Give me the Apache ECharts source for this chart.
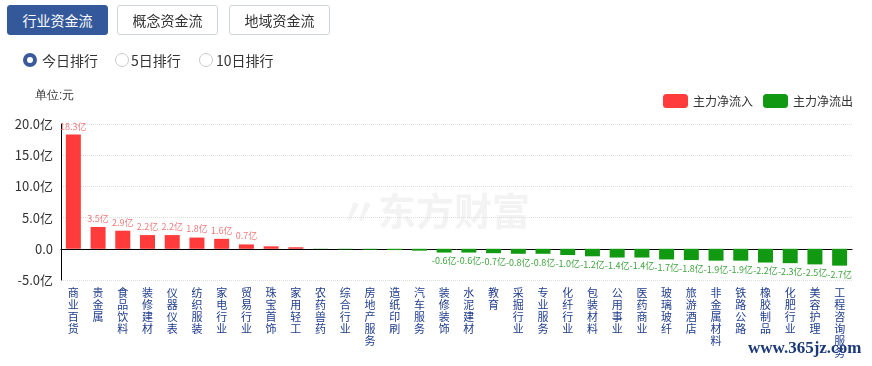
<!DOCTYPE html>
<html>
<head>
<meta charset="utf-8">
<script src="https://cdn.jsdelivr.net/npm/echarts@6/dist/echarts.min.js"></script>
<style>
html,body{margin:0;padding:0;background:#fff;font-family:"Noto Sans CJK SC","Microsoft YaHei",sans-serif;}
#wrap{position:relative;width:872px;height:366px;overflow:hidden;}
#chart{position:absolute;left:0;top:0;width:872px;height:366px;}
.tab{position:absolute;top:5px;height:28px;line-height:28px;width:99px;text-align:center;font-size:14px;border:1px solid #cfd4dc;border-radius:3px;color:#333;background:#fff;box-sizing:content-box;}
.tab.on{background:#34599a;color:#fff;border-color:#34599a;}
.radio{position:absolute;top:51px;font-size:14px;color:#333;line-height:18px;}
.dot{position:absolute;top:3px;width:8px;height:8px;border-radius:50%;}
</style>
</head>
<body>
<div id="wrap">
<div id="chart"></div>
<div class="tab on" style="left:7px;">行业资金流</div>
<div class="tab" style="left:117px;">概念资金流</div>
<div class="tab" style="left:229px;">地域资金流</div>
<div class="dot" style="left:23px;top:53px;border:4px solid #3a5a9a;width:6px;height:6px;background:#fff;"></div>
<div class="radio" style="left:42px;">今日排行</div>
<div class="dot" style="left:115px;top:53px;border:1px solid #c8c8c8;width:12px;height:12px;"></div>
<div class="radio" style="left:131px;">5日排行</div>
<div class="dot" style="left:199px;top:53px;border:1px solid #c8c8c8;width:12px;height:12px;"></div>
<div class="radio" style="left:216px;">10日排行</div>
</div>
<script>
var categories = ["商业百货","贵金属","食品饮料","装修建材","仪器仪表","纺织服装","家电行业","贸易行业","珠宝首饰","家用轻工","农药兽药","综合行业","房地产服务","造纸印刷","汽车服务","装修装饰","水泥建材","教育","采掘行业","专业服务","化纤行业","包装材料","公用事业","医药商业","玻璃玻纤","旅游酒店","非金属材料","铁路公路","橡胶制品","化肥行业","美容护理","工程咨询服务"];
var values = [18.3,3.5,2.9,2.2,2.2,1.8,1.6,0.7,0.4,0.25,-0.05,-0.1,-0.15,-0.2,-0.3,-0.6,-0.6,-0.7,-0.8,-0.8,-1.0,-1.2,-1.4,-1.4,-1.7,-1.8,-1.9,-1.9,-2.2,-2.3,-2.5,-2.7];
var yTicks = [-5,0,5,10,15,20];
var seriesNames = ["主力净流入","主力净流出"];

var inflow = values.map(function(v){return v>=0?v:null;});
var outflow = values.map(function(v){return v<0?v:null;});

var chart = echarts.init(document.getElementById('chart'));
chart.setOption({
  animation:false,
  textStyle:{fontFamily:'"Noto Sans CJK SC",sans-serif'},
  legend:{
    data:seriesNames, right:14, top:89, itemWidth:25, itemHeight:14, itemGap:10,
    textStyle:{fontSize:12,color:'#333'}
  },
  graphic:[
    {type:'text',left:35,top:90,style:{text:'单位:元',fontSize:12,fill:'#333',font:'12px "Noto Sans CJK SC"'}},
    {type:'text',left:340,top:192,z:-10,style:{text:'〃东方财富',fill:'#f3f3f3',font:'bold 38px "Noto Sans CJK SC"'}},
    {type:'text',left:748,top:340,z:100,style:{text:'www.365jz.com',fill:'#1c3a78',font:'bold 17px "Liberation Serif"'}}
  ],
  grid:{left:61,right:20,top:124,bottom:86,containLabel:false,outerBoundsMode:'none'},
  xAxis:{
    type:'category', data:categories,
    axisLine:{show:true,onZero:true,lineStyle:{color:'#000'}},
    axisTick:{show:false},
    axisLabel:{
      interval:0, color:'#1f3c8c', fontSize:11, lineHeight:12, margin:7,
      verticalAlign:'top',
      formatter:function(v){return v.split('').join('\n');}
    }
  },
  yAxis:{
    type:'value', min:yTicks[0], max:yTicks[yTicks.length-1], interval:5,
    axisLine:{show:true,lineStyle:{color:'#000'}},
    axisTick:{show:false},
    axisLabel:{color:'#333',fontSize:13,margin:8,
      formatter:function(v){return v===0?'0.0':v.toFixed(1)+'亿';}},
    splitLine:{show:true,lineStyle:{color:'#ddd',type:'dotted'}}
  },
  series:[
    {name:seriesNames[0],type:'bar',data:inflow,barWidth:15,barGap:'-100%',
      itemStyle:{color:'#ff3b3b'},
      label:{show:true,position:'top',fontSize:9,color:'#f07a7a',distance:4,
        formatter:function(p){return p.value>=0.5?p.value.toFixed(1)+'亿':'';}}},
    {name:seriesNames[1],type:'bar',data:outflow,barWidth:15,barGap:'-100%',
      itemStyle:{color:'#119a11'},
      label:{show:true,position:'bottom',fontSize:9,color:'#3fa33f',distance:4,
        formatter:function(p){return p.value<=-0.5?p.value.toFixed(1)+'亿':'';}}}
  ]
});
</script>
</body>
</html>
